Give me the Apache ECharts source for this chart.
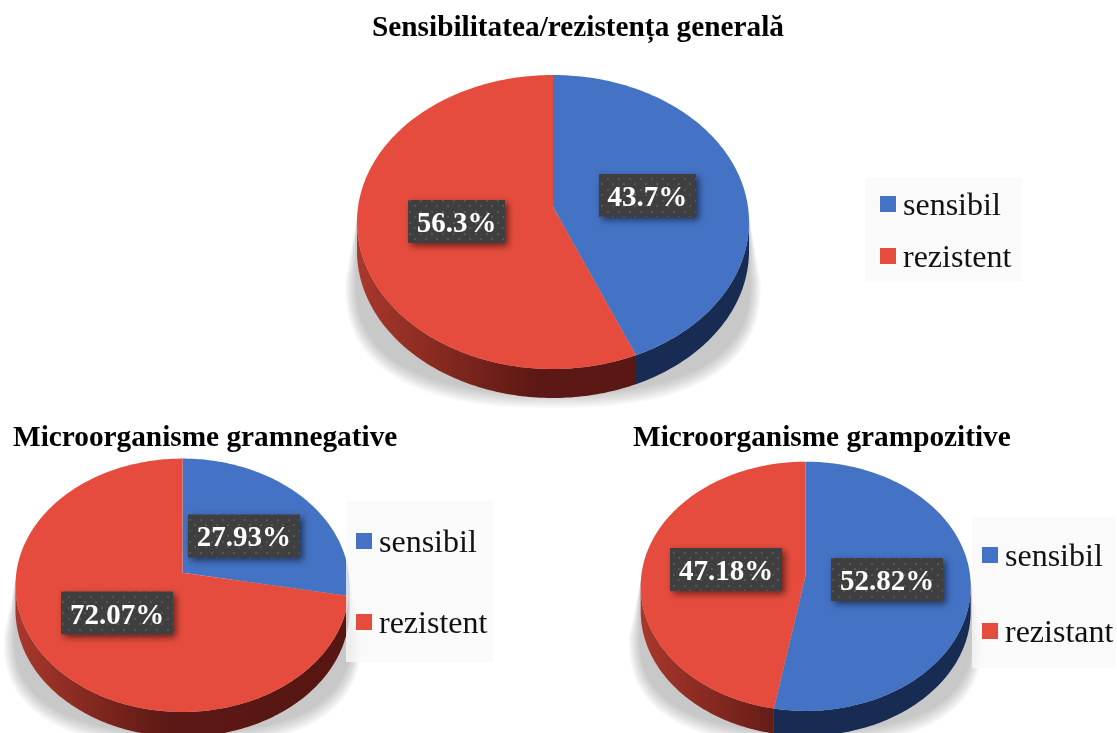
<!DOCTYPE html>
<html>
<head>
<meta charset="utf-8">
<style>html,body{margin:0;padding:0;background:#fff}#c{width:1117px;height:733px}</style>
<script src="https://cdn.jsdelivr.net/npm/echarts@6/dist/echarts.min.js"></script>
</head>
<body>
<div id="c"></div>
<script>
// ---- data ----
const titleOverall = 'Sensibilitatea/rezistența generală';
const titleNegative = 'Microorganisme gramnegative';
const titlePositive = 'Microorganisme grampozitive';
const categoriesOverall = ['sensibil', 'rezistent'];
const categoriesNegative = ['sensibil', 'rezistent'];
const categoriesPositive = ['sensibil', 'rezistant'];
const valuesOverall = [43.7, 56.3];
const valuesNegative = [27.93, 72.07];
const valuesPositive = [52.82, 47.18];
const labelsOverall = ['43.7%', '56.3%'];
const labelsNegative = ['27.93%', '72.07%'];
const labelsPositive = ['52.82%', '47.18%'];

// ---- layout & style ----
const SERIF = '"Liberation Serif","Times New Roman",serif';
const BLUE = '#4472c4', RED = '#e64c3d';
const pies = [
  { cats: categoriesOverall, vals: valuesOverall, labels: labelsOverall,
    cx: 553, cy: 222, rx: 196, ry: 147, k: -0.102, wall: 29, lw: 97,
    labelAt: [[0.482, -0.180], [-0.492, -0.003]] },
  { cats: categoriesNegative, vals: valuesNegative, labels: labelsNegative,
    cx: 182.5, cy: 585.3, rx: 167, ry: 126.7, k: -0.0995, wall: 25, lw: 112,
    labelAt: [[0.368, -0.389], [-0.392, 0.219]] },
  { cats: categoriesPositive, vals: valuesPositive, labels: labelsPositive,
    cx: 805.7, cy: 586.3, rx: 165, ry: 124.6, k: -0.09, wall: 25, lw: 112,
    labelAt: [[0.493, -0.055], [-0.483, -0.135]] }
];

// dotted texture of the label boxes
const tex = document.createElement('canvas');
tex.width = 11; tex.height = 11;
(function () {
  const g = tex.getContext('2d');
  g.fillStyle = '#3f3f3f'; g.fillRect(0, 0, 11, 11);
  g.fillStyle = '#565656';
  g.fillRect(2, 2, 2, 2); g.fillRect(7, 7, 2, 2);
})();

function rim(p, a) {
  const X = Math.sin(a), Y = -Math.cos(a), d = 1 + p.k * Y;
  return [p.cx + p.rx * X * Math.sqrt(1 - p.k * p.k) / d,
          p.cy + p.ry * (Y + p.k) / d];
}
function rim0(p) { return [p.cx, p.cy + p.k * p.ry]; }
function shadowLayer(p, s) {
  const pts = [];
  const rx = p.rx + 12 * s;
  const c = p.cy + p.ry * 0.41;
  const ryLow = p.ry * 0.59 + p.wall + 10 * s - 6 * (1 - s);
  const e = 2 / 2.5;
  pts.push([p.cx - p.rx, p.cy - 5]);
  for (let t = 180; t >= 0; t -= 3) {
    const r = t * Math.PI / 180, co = Math.cos(r), si = Math.sin(r);
    pts.push([p.cx + rx * Math.sign(co) * Math.pow(Math.abs(co), e),
              c + ryLow * Math.pow(si, e)]);
  }
  pts.push([p.cx + p.rx, p.cy - 5]);
  return pts;
}
function makeRender(p, i) {
  const total = p.vals.reduce((a, b) => a + b, 0);
  const before = p.vals.slice(0, i).reduce((a, b) => a + b, 0);
  return function (params, api) {
    const a0 = before / total * 2 * Math.PI;
    const a1 = (before + api.value(0)) / total * 2 * Math.PI;
    const children = [];
    if (i === 0) {
      for (let n = 10; n >= 1; n--) {
        children.push({ type: 'polygon', silent: true,
          shape: { points: shadowLayer(p, n / 10) },
          style: { fill: 'rgba(110,110,110,0.038)' } });
      }
    }
    const steps = Math.ceil((a1 - a0) / (Math.PI / 180));
    const arc = [];
    for (let n = 0; n <= steps; n++) arc.push(rim(p, a0 + (a1 - a0) * n / steps));
    const low = arc.filter(q => q[1] >= p.cy);
    if (low.length > 1) {
      const wallPts = low.concat(low.slice().reverse().map(q => [q[0], q[1] + p.wall]));
      const fill = i === 0 && p.cats[i] === 'sensibil'
        ? '#182b52'
        : { type: 'linear', global: true, x: p.cx - p.rx, y: 0, x2: p.cx + p.rx, y2: 0,
            colorStops: [{ offset: 0, color: '#a9382d' }, { offset: 0.25, color: '#7f271e' },
                         { offset: 0.46, color: '#5c1814' }, { offset: 1, color: '#561612' }] };
      children.push({ type: 'polygon', shape: { points: wallPts }, style: { fill: fill } });
    }
    children.push({ type: 'polygon', shape: { points: [rim0(p)].concat(arc) },
      style: { fill: i === 0 ? BLUE : RED } });
    const lc = [p.cx + p.labelAt[i][0] * p.rx, p.cy + p.labelAt[i][1] * p.ry];
    children.push({ type: 'rect', z2: 20,
      shape: { x: lc[0] - p.lw / 2, y: lc[1] - 21.5, width: p.lw, height: 43 },
      style: { fill: { image: tex, repeat: 'repeat' }, shadowBlur: 7, shadowOffsetX: 3, shadowOffsetY: 3,
               shadowColor: 'rgba(0,0,0,0.55)' } });
    children.push({ type: 'text', z2: 21, x: lc[0], y: lc[1] + 3,
      style: { text: p.labels[i], fill: '#fff', align: 'center', verticalAlign: 'middle',
               font: 'bold 29px ' + SERIF } });
    return { type: 'group', children: children };
  };
}

const series = [];
pies.forEach(function (p) {
  p.vals.forEach(function (v, i) {
    series.push({
      type: 'custom', name: p.cats[i], coordinateSystem: 'none', silent: true,
      itemStyle: { color: i === 0 ? BLUE : RED },
      renderItem: makeRender(p, i), data: [[v]]
    });
  });
});

const legendBase = { orient: 'vertical', icon: 'rect', itemWidth: 16, itemHeight: 16,
  backgroundColor: 'rgba(248,248,248,0.78)', selectedMode: false,
  formatter: '{t|{name}}',
  textStyle: { rich: { t: { fontFamily: SERIF, fontSize: 32, color: '#111', padding: [5, 0, 0, 2] } } } };

const titleStyle = { fontFamily: SERIF, fontSize: 29.3, fontWeight: 'bold', color: '#000' };

const chart = echarts.init(document.getElementById('c'), null, { renderer: 'canvas' });
chart.setOption({
  backgroundColor: '#fff',
  animation: false,
  title: [
    { text: titleOverall, left: 372, top: 14, padding: 0, textStyle: titleStyle },
    { text: titleNegative, left: 13, top: 424, padding: 0, textStyle: titleStyle },
    { text: titlePositive, left: 633, top: 424, padding: 0, textStyle: titleStyle }
  ],
  legend: [
    Object.assign({}, legendBase, { data: categoriesOverall, left: 865, top: 178, itemGap: 20, padding: [12.5, 11, 6.5, 15] }),
    Object.assign({}, legendBase, { data: categoriesNegative, left: 346, top: 501, itemGap: 49, padding: [26.5, 6, 21.5, 10] }),
    Object.assign({}, legendBase, { data: categoriesPositive, left: 972, top: 517, itemGap: 44, padding: [24.5, 2, 18.5, 10] })
  ],
  series: series
});
</script>
</body>
</html>
